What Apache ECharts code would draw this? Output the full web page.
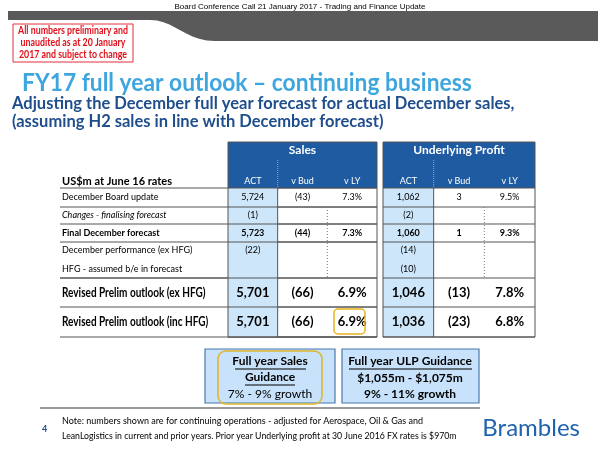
<!DOCTYPE html>
<html>
<head>
<meta charset="utf-8">
<script src="https://cdn.jsdelivr.net/npm/echarts@6/dist/echarts.min.js"></script>
<style>html,body{margin:0;padding:0;background:#fff}#main{width:602px;height:450px}</style>
</head>
<body>
<div id="main"></div>
<script>
// table data
var rowLabels = ['December Board update', 'Changes - finalising forecast', 'Final December forecast',
  'December performance (ex HFG)', 'HFG - assumed b/e in forecast',
  'Revised Prelim outlook (ex HFG)', 'Revised Prelim outlook (inc HFG)'];
var colHeads = ['ACT', 'v Bud', 'v LY'];
var salesAct = ['5,724', '(1)', '5,723', '(22)', '', '5,701', '5,701'];
var salesBud = ['(43)', '', '(44)', '', '', '(66)', '(66)'];
var salesLY = ['7.3%', '', '7.3%', '', '', '6.9%', '6.9%'];
var profitAct = ['1,062', '(2)', '1,060', '(14)', '(10)', '1,046', '1,036'];
var profitBud = ['3', '', '1', '', '', '(13)', '(23)'];
var profitLY = ['9.5%', '', '9.3%', '', '', '7.8%', '6.8%'];

var FONT = 'Lato, "Noto Sans", sans-serif';
var NAVY = '#1f4e8c';
var els = [];

function txt(x, y, s, size, opt) {
  opt = opt || {};
  els.push({type: 'text', x: x, y: y, scaleX: opt.sx || 1, style: {
    text: s, fontSize: size, fontFamily: opt.font || FONT, fontWeight: opt.bold ? 'bold' : 'normal',
    fontStyle: opt.italic ? 'italic' : 'normal', fill: opt.color || '#000',
    align: opt.align || 'left', verticalAlign: 'middle', lineHeight: opt.lh || size * 1.2
  }});
}
function rect(x, y, w, h, fill, stroke, lw, r) {
  els.push({type: 'rect', shape: {x: x, y: y, width: w, height: h, r: r || 0},
    style: {fill: fill || 'none', stroke: stroke || null, lineWidth: lw || 1}});
}
function line(x1, y1, x2, y2, color, lw, dash) {
  els.push({type: 'line', shape: {x1: x1, y1: y1, x2: x2, y2: y2},
    style: {stroke: color, lineWidth: lw || 1, lineDash: dash || null}});
}

// header band
txt(300, 7, 'Board Conference Call 21 January 2017 - Trading and Finance Update', 8, {align: 'center', font: 'Liberation Sans'});
var band = [[8, 11], [598, 11], [598, 41], [215, 41]];
for (var t = 0; t <= 1.0001; t += 0.1) {
  var u = 1 - t;
  band.push([u*u*u*215 + 3*u*u*t*185 + 3*u*t*t*175 + t*t*t*150,
             u*u*u*41 + 3*u*u*t*41 + 3*u*t*t*20 + t*t*t*20]);
}
band.push([8, 20]);
els.push({type: 'polygon', shape: {points: band}, style: {fill: '#5a5a5a'}});
rect(13, 24, 120, 38, '#fff', '#e0303a', 1);
txt(73, 43, 'All numbers preliminary and\nunaudited as at 20 January\n2017 and subject to change', 10.5, {align: 'center', bold: true, color: '#e0101a', lh: 12, sx: 0.84});

txt(22, 83, 'FY17 full year outlook \u2013 continuing business', 24, {bold: true, color: '#3ea6df', sx: 0.95});
txt(12, 104, 'Adjusting the December full year forecast for actual December sales,', 16.5, {bold: true, color: NAVY});
txt(12, 122, '(assuming H2 sales in line with December forecast)', 16.5, {bold: true, color: NAVY});

// table geometry
var rowY = [188, 207, 224, 242, 260, 278, 307, 337];
var blocks = [
  {x: 228, w: 149, title: 'Sales', cols: [salesAct, salesBud, salesLY]},
  {x: 383, w: 152, title: 'Underlying Profit', cols: [profitAct, profitBud, profitLY]}
];
var labelX = 60;
[0, 1, 2, 3, 5, 6, 7].forEach(function (i) {
  line(labelX, rowY[i], 377, rowY[i], '#555', 1);
});
blocks.forEach(function (b) {
  var cw = b.w / 3;
  rect(b.x, 142, b.w, 46, '#1f5ba0');
  rect(b.x, rowY[0], cw, rowY[7] - rowY[0], '#cde6fa');
  [0, 1, 2, 3, 5, 6, 7].forEach(function (i) { line(b.x, rowY[i], b.x + b.w, rowY[i], '#555', 1); });
  rect(b.x, 142, b.w, rowY[7] - 142, null, '#555', 1);
  line(b.x + cw, 160, b.x + cw, 188, '#8fa8c8', 1, [1, 1]);
  line(b.x + cw, rowY[0], b.x + cw, rowY[7], '#555', 1);
  line(b.x + 2 * cw, rowY[1], b.x + 2 * cw, rowY[5], '#777', 1, [1, 2]);
  txt(b.x + b.w / 2, 150, b.title, 12, {align: 'center', bold: true, color: '#fff'});
  colHeads.forEach(function (h, c) {
    txt(b.x + cw * (c + 0.5), 181, h, 9, {align: 'center', color: '#fff'});
    b.cols[c].forEach(function (v, r) {
      if (!v) return;
      var big = r >= 5;
      var y = (rowY[r] + rowY[r + 1]) / 2;
      if (r === 3) y = rowY[3] + 8;
      if (r === 4) y = rowY[5] - 9;
      txt(b.x + cw * (c + 0.5), y, v, big ? 13 : 9, {align: 'center', bold: big || r === 2});
    });
  });
});
line(labelX, rowY[5], 228, rowY[5], '#555', 1);
txt(labelX + 2, 181, 'US$m at June 16 rates', 11, {bold: true});
rowLabels.forEach(function (s, r) {
  var big = r >= 5;
  var y = (rowY[r] + rowY[r + 1]) / 2;
  if (r === 3) y = rowY[3] + 8;
  if (r === 4) y = rowY[5] - 9;
  txt(labelX + 2, y, s, big ? 13 : 9, {bold: big || r === 2, italic: r === 1, sx: big ? 0.77 : 1});
});
rect(334, 309, 31, 25, null, '#e8b320', 1.5, 4);

// guidance boxes
rect(205, 349, 130, 54, '#c7e2fa', '#4a78b0', 1.2);
rect(342, 349, 137, 54, '#c7e2fa', '#4a78b0', 1.2);
rect(218, 351, 104, 53, null, '#e0b52a', 1.5, 8);
txt(270, 361, 'Full year Sales', 12, {align: 'center', bold: true});
txt(270, 377, 'Guidance', 12, {align: 'center', bold: true});
line(235, 369, 306, 369, '#000', 1);
line(245, 385, 295, 385, '#000', 1);
txt(270, 394, '7% - 9% growth', 12, {align: 'center'});
txt(410, 361, 'Full year ULP Guidance', 12, {align: 'center', bold: true});
line(349, 369, 472, 369, '#000', 1);
txt(410, 378, '$1,055m - $1,075m', 12, {align: 'center', bold: true});
txt(410, 394, '9% - 11% growth', 12, {align: 'center', bold: true});

// footer
line(40, 408, 480, 408, '#777', 1.5);
txt(42, 429, '4', 9, {bold: true, color: NAVY});
txt(62, 421, 'Note: numbers shown are for continuing operations - adjusted for Aerospace, Oil & Gas and', 9);
txt(62, 436, 'LeanLogistics in current and prior years. Prior year Underlying profit at 30 June 2016 FX rates is $970m', 9, {sx: 0.97});
txt(580, 428, 'Brambles', 24, {align: 'right', color: '#1f62ad'});

var chart = echarts.init(document.getElementById('main'));
chart.setOption({animation: false, graphic: {elements: els}});
</script>
</body>
</html>
